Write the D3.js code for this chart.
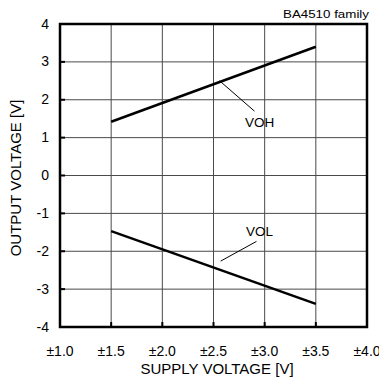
<!DOCTYPE html>
<html><head><meta charset="utf-8">
<script src="https://cdn.jsdelivr.net/npm/d3@7"></script>
<style>body{margin:0;background:#fff;}svg{display:block;font-family:"Liberation Sans",Arial,sans-serif;}</style>
</head><body>
<svg id="c" width="379" height="385"></svg>
<script>
const xTicks = [1.0, 1.5, 2.0, 2.5, 3.0, 3.5, 4.0];
const xTickLabels = ["±1.0","±1.5","±2.0","±2.5","±3.0","±3.5","±4.0"];
const yTicks = [-4,-3,-2,-1,0,1,2,3,4];
const vohX = [1.5, 3.5];
const vohY = [1.42, 3.4];
const volX = [1.5, 3.5];
const volY = [-1.47, -3.39];
const labels = ["VOH","VOL"];
const labelPos = [[2.95, 1.42],[2.95, -1.47]];
const leaderFrom = [[2.56, 2.5],[2.57, -2.26]];
const leaderTo = [[2.9, 1.7],[2.92, -1.74]];

const svg = d3.select("#c");
const L=60, R=367, T=24, B=327;
const x = d3.scaleLinear().domain([1,4]).range([L,R]);
const y = d3.scaleLinear().domain([-4,4]).range([B,T]);

// grid
svg.append("g").selectAll("line").data(xTicks.slice(1,-1)).join("line")
  .attr("x1",d=>x(d)).attr("x2",d=>x(d)).attr("y1",T).attr("y2",B)
  .attr("stroke","#4a4a4a").attr("stroke-width",1);
svg.append("g").selectAll("line").data(yTicks.slice(1,-1)).join("line")
  .attr("y1",d=>y(d)).attr("y2",d=>y(d)).attr("x1",L).attr("x2",R)
  .attr("stroke","#4a4a4a").attr("stroke-width",1);
// inner tick stubs
svg.append("g").selectAll("line").data(xTicks.slice(1,-1)).join("line")
  .attr("x1",d=>x(d)).attr("x2",d=>x(d)).attr("y1",B).attr("y2",B-5)
  .attr("stroke","#000").attr("stroke-width",2);
svg.append("g").selectAll("line").data(yTicks.slice(1,-1)).join("line")
  .attr("y1",d=>y(d)).attr("y2",d=>y(d)).attr("x1",L).attr("x2",L+5)
  .attr("stroke","#000").attr("stroke-width",2);
// frame
svg.append("rect").attr("x",L).attr("y",T).attr("width",R-L).attr("height",B-T)
  .attr("fill","none").attr("stroke","#000").attr("stroke-width",2.5);

// axes labels
svg.append("g").selectAll("text").data(xTicks).join("text")
  .attr("x",d=>x(d)).attr("y",356).attr("text-anchor","middle")
  .attr("font-size",14).text((d,i)=>xTickLabels[i]);
svg.append("g").selectAll("text").data(yTicks).join("text")
  .attr("x",49).attr("y",d=>y(d)+4.5).attr("text-anchor","end")
  .attr("font-size",14).text(d=>d);
svg.append("text").attr("x",217).attr("y",374).attr("text-anchor","middle")
  .attr("font-size",15).text("SUPPLY VOLTAGE [V]");
svg.append("text").attr("transform",`translate(21,178) rotate(-90)`)
  .attr("text-anchor","middle").attr("font-size",15).text("OUTPUT VOLTAGE [V]");
svg.append("text").attr("x",369).attr("y",18).attr("text-anchor","end")
  .attr("font-size",11).attr("textLength",86).attr("lengthAdjust","spacingAndGlyphs")
  .text("BA4510 family");

// series
const line = d3.line().x(d=>x(d[0])).y(d=>y(d[1]));
[[vohX,vohY],[volX,volY]].forEach(([xs,ys])=>{
  svg.append("path").attr("d",line(xs.map((v,i)=>[v,ys[i]])))
    .attr("fill","none").attr("stroke","#000").attr("stroke-width",2.5);
});
// leaders and labels
labels.forEach((t,i)=>{
  svg.append("line").attr("x1",x(leaderFrom[i][0])).attr("y1",y(leaderFrom[i][1]))
    .attr("x2",x(leaderTo[i][0])).attr("y2",y(leaderTo[i][1]))
    .attr("stroke","#000").attr("stroke-width",1);
  svg.append("text").attr("x",x(labelPos[i][0])).attr("y",y(labelPos[i][1])+5)
    .attr("text-anchor","middle").attr("font-size",13.5).text(t);
});
</script>
</body></html>
